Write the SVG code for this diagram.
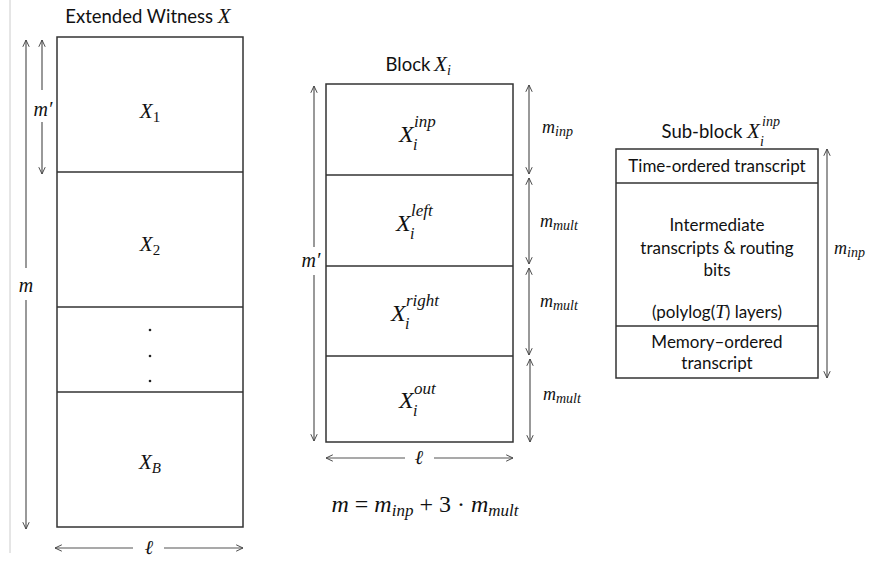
<svg xmlns="http://www.w3.org/2000/svg" width="869" height="563" viewBox="0 0 869 563">
<defs>
<marker id="ah" viewBox="0 0 10 10" refX="9.5" refY="5" markerWidth="8" markerHeight="8" orient="auto-start-reverse" markerUnits="userSpaceOnUse">
<path d="M1,1 L9.5,5 L1,9" fill="none" stroke="#444" stroke-width="1.2"/>
</marker>
<style>
.box{fill:#fff;stroke:#333;stroke-width:1.5}
.div{stroke:#333;stroke-width:1.5}
.arr{stroke:#555;stroke-width:1.2;fill:none}
.t{font-family:Lato,"Open Sans","Liberation Sans",sans-serif;font-size:18.5px;fill:#111;text-anchor:middle}
.s{font-family:Lato,"Open Sans","Liberation Sans",sans-serif;font-size:17px;fill:#111;text-anchor:middle}
.m{font-family:"Liberation Serif","DejaVu Serif",serif;font-style:italic;fill:#111}
.c{text-anchor:middle}
.mn{font-family:"Liberation Serif","DejaVu Serif",serif;font-style:normal}
</style>
</defs>
<rect width="869" height="563" fill="#fff"/>
<line x1="10" y1="0" x2="10" y2="553" stroke="#ccc" stroke-width="1"/>

<g id="panel-witness">
<text class="t" x="148" y="23">Extended Witness <tspan class="m" font-size="21">X</tspan></text>
<rect class="box" x="57" y="37" width="186" height="490"/>
<line class="div" x1="57" y1="172" x2="243" y2="172"/>
<line class="div" x1="57" y1="307" x2="243" y2="307"/>
<line class="div" x1="57" y1="392" x2="243" y2="392"/>
</g>
<g id="X1"><text class="m c" x="150" y="118" font-size="21">X<tspan class="mn" font-size="15" dy="4">1</tspan></text></g>
<g id="X2"><text class="m c" x="150" y="251" font-size="21">X<tspan class="mn" font-size="15" dy="4">2</tspan></text></g>
<g id="dots">
<circle cx="150" cy="330" r="1.3" fill="#222"/>
<circle cx="150" cy="356" r="1.3" fill="#222"/>
<circle cx="150" cy="381" r="1.3" fill="#222"/>
</g>
<g id="XB"><text class="m c" x="150" y="469" font-size="21">X<tspan font-size="15" dy="4">B</tspan></text></g>

<g id="panel-block">
<text class="t" x="408" y="71">Block </text>
<text class="m" x="434" y="71" font-size="21">X</text>
<text class="m" x="447" y="75" font-size="14">i</text>
<rect class="box" x="326" y="84" width="187" height="358"/>
<line class="div" x1="326" y1="175" x2="513" y2="175"/>
<line class="div" x1="326" y1="266" x2="513" y2="266"/>
<line class="div" x1="326" y1="356" x2="513" y2="356"/>
</g>
<g id="Xinp">
<text class="m" x="399" y="142" font-size="24">X</text>
<text class="m" x="414" y="127" font-size="17">inp</text>
<text class="m" x="413" y="150" font-size="16">i</text>
</g>
<g id="Xleft">
<text class="m" x="396" y="231" font-size="24">X</text>
<text class="m" x="411" y="216" font-size="17">left</text>
<text class="m" x="410" y="239" font-size="16">i</text>
</g>
<g id="Xright">
<text class="m" x="391" y="321" font-size="24">X</text>
<text class="m" x="406" y="306" font-size="17">right</text>
<text class="m" x="405" y="329" font-size="16">i</text>
</g>
<g id="Xout">
<text class="m" x="399" y="408" font-size="24">X</text>
<text class="m" x="414" y="394" font-size="17">out</text>
<text class="m" x="413" y="416" font-size="16">i</text>
</g>

<g id="panel-subblock">
<text class="t" x="702" y="138">Sub-block</text>
<text class="m" x="747" y="138" font-size="21">X</text>
<text class="m" x="762" y="126" font-size="14">inp</text>
<text class="m" x="760" y="146" font-size="14">i</text>
<rect class="box" x="616" y="149" width="202" height="229"/>
<line class="div" x1="616" y1="183" x2="818" y2="183"/>
<line class="div" x1="616" y1="326" x2="818" y2="326"/>
</g>
<g id="time-ordered"><text class="s" x="717" y="172">Time-ordered transcript</text></g>
<g id="intermediate">
<text class="s" x="717" y="231">Intermediate</text>
<text class="s" x="717" y="254">transcripts &amp; routing</text>
<text class="s" x="717" y="276">bits</text>
<text class="s" x="717" y="318">(polylog(<tspan class="m" font-size="19">T</tspan>) layers)</text>
</g>
<g id="memory-ordered">
<text class="s" x="717" y="348">Memory–ordered</text>
<text class="s" x="717" y="369">transcript</text>
</g>

<g id="connectors">
<line class="arr" x1="42" y1="90" x2="42" y2="40" marker-end="url(#ah)"/>
<line class="arr" x1="42" y1="122" x2="42" y2="174" marker-end="url(#ah)"/>
<line class="arr" x1="26" y1="268" x2="26" y2="40" marker-end="url(#ah)"/>
<line class="arr" x1="26" y1="300" x2="26" y2="529" marker-end="url(#ah)"/>
<line class="arr" x1="133" y1="548" x2="55" y2="548" marker-end="url(#ah)"/>
<line class="arr" x1="164" y1="548" x2="243" y2="548" marker-end="url(#ah)"/>
<line class="arr" x1="314" y1="247" x2="314" y2="86" marker-end="url(#ah)"/>
<line class="arr" x1="314" y1="275" x2="314" y2="441" marker-end="url(#ah)"/>
<line class="arr" x1="529" y1="85" x2="529" y2="174" marker-start="url(#ah)" marker-end="url(#ah)"/>
<line class="arr" x1="529" y1="178" x2="529" y2="264" marker-start="url(#ah)" marker-end="url(#ah)"/>
<line class="arr" x1="529" y1="268" x2="529" y2="355" marker-start="url(#ah)" marker-end="url(#ah)"/>
<line class="arr" x1="530" y1="359" x2="530" y2="442" marker-start="url(#ah)" marker-end="url(#ah)"/>
<line class="arr" x1="405" y1="458" x2="326" y2="458" marker-end="url(#ah)"/>
<line class="arr" x1="434" y1="458" x2="513" y2="458" marker-end="url(#ah)"/>
<line class="arr" x1="827" y1="149" x2="827" y2="378" marker-start="url(#ah)" marker-end="url(#ah)"/>
</g>

<g id="labels">
<text class="m c" x="43" y="116" font-size="20">m′</text>
<text class="m c" x="26" y="292" font-size="20">m</text>
<text class="m c" x="149" y="554" font-size="20">ℓ</text>
<text class="m c" x="311" y="267" font-size="20">m′</text>
<text class="m c" x="419" y="464" font-size="20">ℓ</text>
<text class="m" x="542" y="133" font-size="18">m<tspan font-size="14" dy="3">inp</tspan></text>
<text class="m" x="540" y="227" font-size="18">m<tspan font-size="14" dy="3">mult</tspan></text>
<text class="m" x="540" y="307" font-size="18">m<tspan font-size="14" dy="3">mult</tspan></text>
<text class="m" x="543" y="400" font-size="18">m<tspan font-size="14" dy="3">mult</tspan></text>
<text class="m" x="834" y="254" font-size="18">m<tspan font-size="14" dy="3">inp</tspan></text>
<text class="m c" x="425" y="512" font-size="24">m <tspan class="mn">=</tspan> m<tspan font-size="17" dy="4">inp</tspan><tspan class="mn" dy="-4"> + 3 · </tspan>m<tspan font-size="17" dy="4">mult</tspan></text>
</g>
</svg>
